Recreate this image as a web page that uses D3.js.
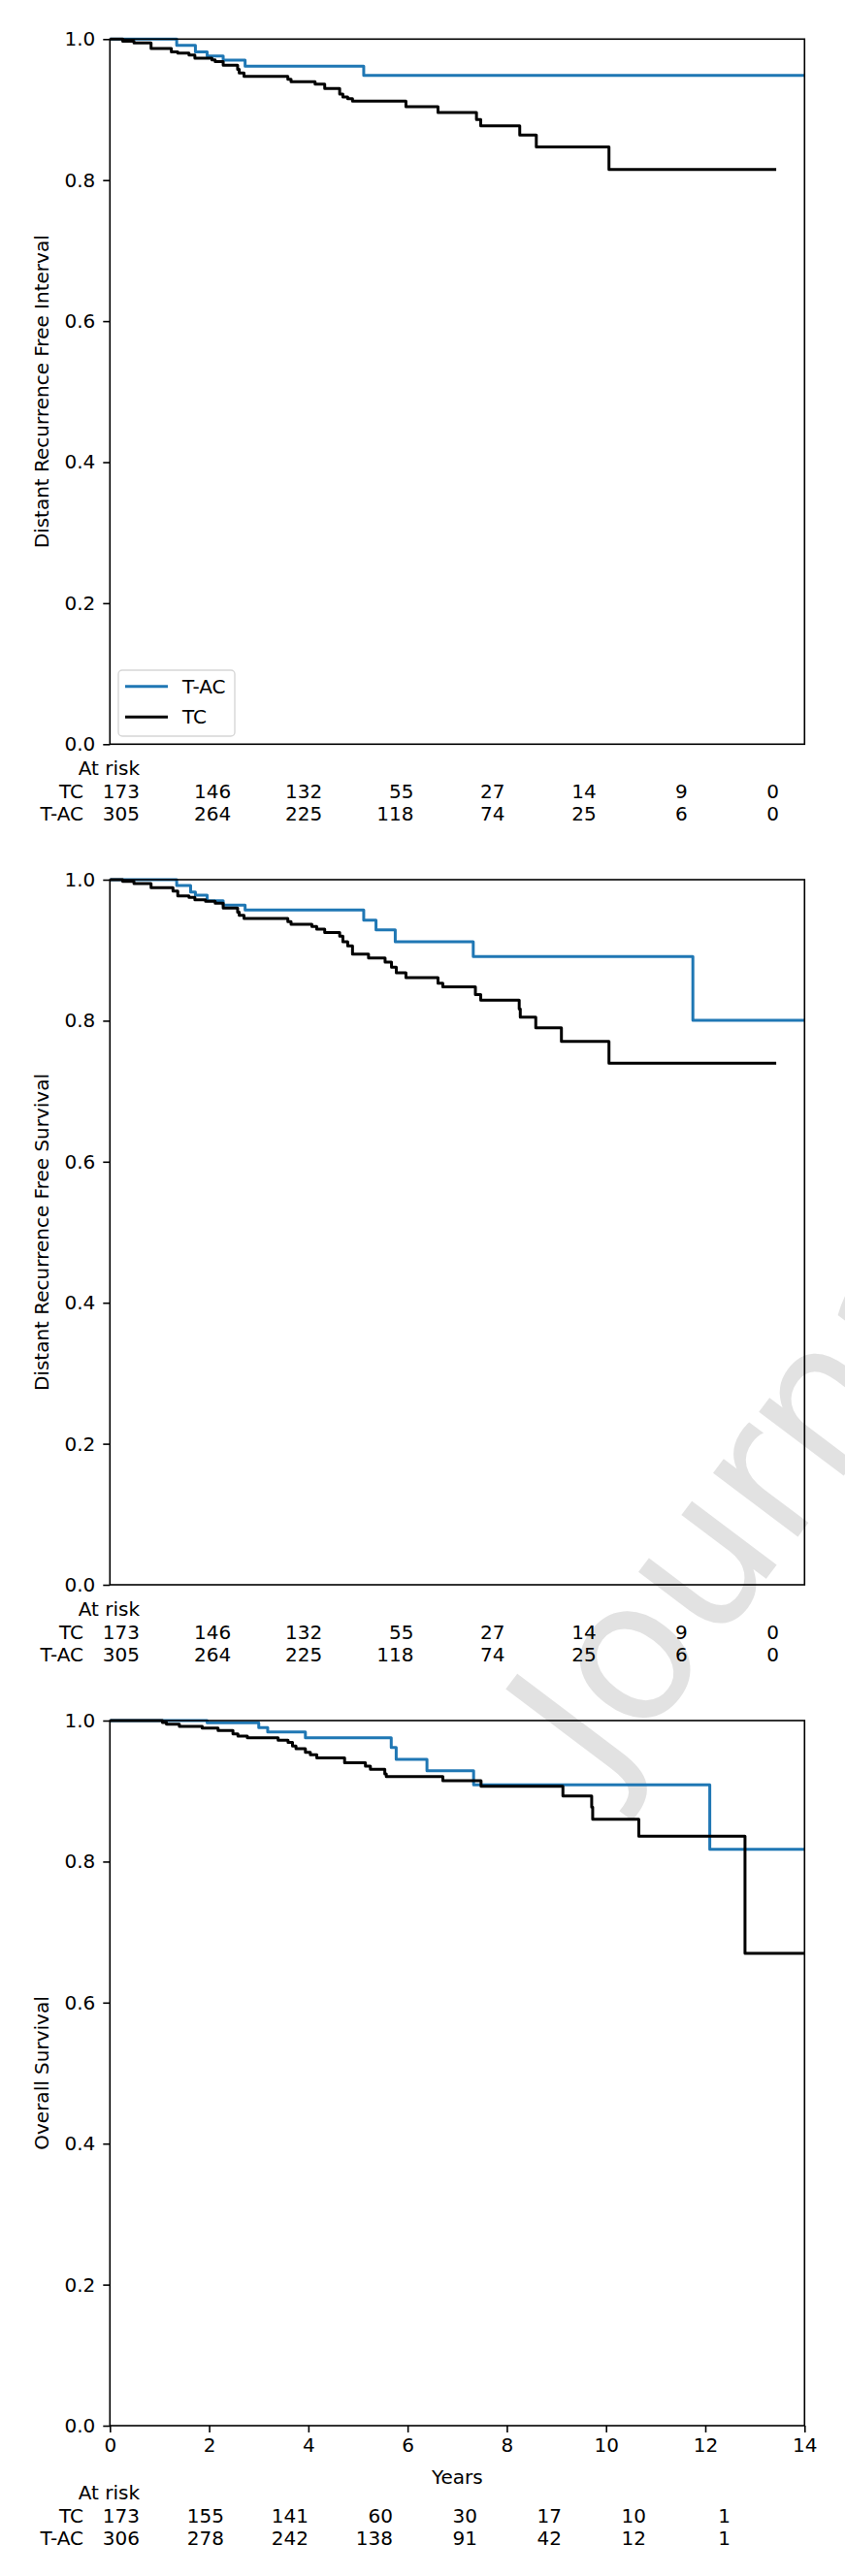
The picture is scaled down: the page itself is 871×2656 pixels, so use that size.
<!DOCTYPE html>
<html>
<head>
<meta charset="utf-8">
<script src="https://cdn.jsdelivr.net/npm/d3@7"></script>
<style>
  body { margin: 0; background: #fff; }
  text { font-family: 'DejaVu Sans', sans-serif; }
</style>
</head>
<body>
<div id="chart"></div>
<script>
// ---- data ----
const riskTimes = [0, 2, 4, 6, 8, 10, 12, 14];
const xTicks = [0, 2, 4, 6, 8, 10, 12, 14];
const yTicks = [0, 0.2, 0.4, 0.6, 0.8, 1.0];
const groups = ["T-AC", "TC"];

// Distant recurrence free interval
const drfiTacTimes = [1.25, 1.60, 1.82, 2.12, 2.53, 4.75];
const drfiTacSurv = [0.991, 0.982, 0.976, 0.970, 0.9615, 0.9486];
const drfiTacEnd = 13;
const drfiTcTimes = [0.24, 0.45, 0.77, 1.15, 1.27, 1.48, 1.59, 1.91, 1.97, 2.12, 2.39, 2.42, 2.51, 3.33, 3.39, 3.84, 4.02, 4.30, 4.36, 4.45, 4.54, 5.54, 6.14, 6.86, 6.94, 7.67, 7.98, 9.34];
const drfiTcSurv = [0.997, 0.9945, 0.9867, 0.982, 0.980, 0.9775, 0.973, 0.9706, 0.968, 0.963, 0.957, 0.952, 0.947, 0.943, 0.9395, 0.936, 0.930, 0.922, 0.918, 0.9156, 0.912, 0.904, 0.896, 0.886, 0.877, 0.864, 0.847, 0.815];
const drfiTcEnd = 12.47;

// Distant recurrence free survival
const drfsTacTimes = [1.25, 1.51, 1.60, 1.82, 2.12, 2.53, 4.75, 4.98, 5.34, 6.80, 10.91];
const drfsTacSurv = [0.9917, 0.9826, 0.978, 0.970, 0.964, 0.957, 0.9427, 0.9289, 0.912, 0.891, 0.8005];
const drfsTacEnd = 13;
const drfsTcTimes = [0.24, 0.45, 0.77, 1.18, 1.27, 1.48, 1.59, 1.79, 1.97, 2.12, 2.39, 2.42, 2.51, 3.33, 3.39, 3.78, 3.87, 4.02, 4.30, 4.36, 4.45, 4.54, 4.84, 5.15, 5.27, 5.36, 5.54, 6.14, 6.23, 6.84, 6.94, 7.66, 7.68, 7.97, 8.45, 9.34];
const drfsTcSurv = [0.9977, 0.9945, 0.9885, 0.984, 0.977, 0.975, 0.9716, 0.9693, 0.9666, 0.9597, 0.954, 0.9495, 0.945, 0.9404, 0.9367, 0.9335, 0.930, 0.925, 0.920, 0.912, 0.906, 0.8945, 0.889, 0.883, 0.876, 0.868, 0.861, 0.853, 0.848, 0.837, 0.829, 0.8166, 0.805, 0.790, 0.7707, 0.7396];
const drfsTcEnd = 12.47;

// Overall survival
const osTacTimes = [1.96, 3.00, 3.18, 3.94, 5.67, 5.77, 6.39, 7.33, 12.09];
const osTacSurv = [0.997, 0.990, 0.984, 0.9757, 0.962, 0.945, 0.9289, 0.909, 0.8175];
const osTacEnd = 14;
const osTcTimes = [1.06, 1.14, 1.40, 1.86, 2.18, 2.48, 2.58, 2.77, 3.39, 3.59, 3.68, 3.75, 3.94, 4.04, 4.17, 4.73, 5.15, 5.25, 5.54, 5.57, 6.71, 7.48, 9.13, 9.71, 9.73, 10.66, 12.80];
const osTcSurv = [0.9973, 0.995, 0.9917, 0.9895, 0.9858, 0.981, 0.978, 0.9757, 0.972, 0.969, 0.964, 0.960, 0.955, 0.9514, 0.947, 0.940, 0.9353, 0.9308, 0.9243, 0.9206, 0.9147, 0.9069, 0.8931, 0.8771, 0.860, 0.836, 0.670];
const osTcEnd = 14;

// numbers at risk
const drfiRiskTc = [173, 146, 132, 55, 27, 14, 9, 0];
const drfiRiskTac = [305, 264, 225, 118, 74, 25, 6, 0];
const osRiskTc = [173, 155, 141, 60, 30, 17, 10, 1];
const osRiskTac = [306, 278, 242, 138, 91, 42, 12, 1];

// ---- layout ----
const width = 871, height = 2656;
const left = 113.3, right = 829.3, plotH = 727;
const colors = { "T-AC": "#1f77b4", "TC": "#000000" };
const fs = 20;

const svg = d3.select("#chart").append("svg")
    .attr("width", width)
    .attr("height", height)
    .style("background", "#fff");

// faint watermark, sits behind everything (runs off the page like the original)
svg.append("text")
    .attr("transform", "translate(626,1845) rotate(-53)")
    .attr("font-size", 200)
    .attr("fill", "#e2e2e2")
    .text("Journal");

function steps(times, surv, end) {
    const pts = [[0, 1]];
    times.forEach((t, i) => pts.push([t, surv[i]]));
    pts.push([end, surv[surv.length - 1]]);
    return pts;
}

function drawPanel(cfg, idx) {
    const top = cfg.top, bottom = top + plotH;
    const x = d3.scaleLinear().domain(cfg.xDomain).range([left, right]);
    const y = d3.scaleLinear().domain([0, 1]).range([bottom, top]);
    const g = svg.append("g");

    g.append("clipPath").attr("id", "clip" + idx)
        .append("rect")
        .attr("x", left).attr("y", top - 2)
        .attr("width", right - left).attr("height", plotH + 2);

    const line = d3.line()
        .x(d => x(d[0]))
        .y(d => y(d[1]))
        .curve(d3.curveStepAfter);

    const plotArea = g.append("g").attr("clip-path", `url(#clip${idx})`);
    cfg.series.forEach(s => {
        plotArea.append("path")
            .datum(steps(s.times, s.surv, s.end))
            .attr("fill", "none")
            .attr("stroke", colors[s.name])
            .attr("stroke-width", 3)
            .attr("stroke-linejoin", "round")
            .attr("d", line);
    });

    // y axis
    const yAxis = g.append("g")
        .attr("transform", `translate(${left},0)`)
        .call(d3.axisLeft(y).tickValues(yTicks).tickFormat(d3.format(".1f")).tickSize(7).tickPadding(8));
    yAxis.select(".domain").remove();
    yAxis.selectAll("line").attr("stroke", "#000").attr("stroke-width", 1.6);
    yAxis.selectAll("text").attr("font-size", fs).attr("fill", "#000").attr("font-family", null);

    if (cfg.xAxis) {
        const xAxis = g.append("g")
            .attr("transform", `translate(0,${bottom})`)
            .call(d3.axisBottom(x).tickValues(xTicks).tickSize(7).tickPadding(6));
        xAxis.select(".domain").remove();
        xAxis.selectAll("line").attr("stroke", "#000").attr("stroke-width", 1.6);
        xAxis.selectAll("text").attr("font-size", fs).attr("fill", "#000").attr("font-family", null);
        g.append("text")
            .attr("x", (left + right) / 2)
            .attr("y", bottom + 60)
            .attr("text-anchor", "middle")
            .attr("font-size", fs)
            .text("Years");
    }

    // frame
    g.append("rect")
        .attr("x", left).attr("y", top)
        .attr("width", right - left).attr("height", plotH)
        .attr("fill", "none")
        .attr("stroke", "#000")
        .attr("stroke-width", 1.6);

    g.append("text")
        .attr("transform", `translate(50,${(top + bottom) / 2}) rotate(-90)`)
        .attr("text-anchor", "middle")
        .attr("font-size", fs)
        .text(cfg.yLabel);

    if (cfg.legend) {
        const lg = g.append("g");
        lg.append("rect")
            .attr("x", 122).attr("y", 691)
            .attr("width", 120).attr("height", 68)
            .attr("rx", 4)
            .attr("fill", "#fff")
            .attr("fill-opacity", 0.8)
            .attr("stroke", "#d6d6d6")
            .attr("stroke-width", 1.4);
        groups.forEach((name, i) => {
            const ly = 707.7 + i * 31.6;
            lg.append("line")
                .attr("x1", 129).attr("x2", 173)
                .attr("y1", ly).attr("y2", ly)
                .attr("stroke", colors[name])
                .attr("stroke-width", 3);
            lg.append("text")
                .attr("x", 188).attr("y", ly + 7)
                .attr("font-size", fs)
                .text(name);
        });
    }

    // at-risk table
    const rx = d3.scaleLinear().domain([0, 14]).range(cfg.riskRange);
    const rTop = bottom + cfg.riskOffset;
    g.append("text")
        .attr("x", rx(0)).attr("y", rTop + 7)
        .attr("text-anchor", "end")
        .attr("font-size", fs)
        .text("At risk");
    cfg.risk.forEach((row, i) => {
        const ry = rTop + 23.5 * (i + 1) + 7;
        g.append("text")
            .attr("x", 86).attr("y", ry)
            .attr("text-anchor", "end")
            .attr("font-size", fs)
            .text(row.name);
        g.selectAll(null)
            .data(row.counts)
            .enter().append("text")
            .attr("x", (d, j) => rx(riskTimes[j]))
            .attr("y", ry)
            .attr("text-anchor", "end")
            .attr("font-size", fs)
            .text(d => d);
    });
}

const panels = [
    {
        top: 40.3, xDomain: [0, 13], yLabel: "Distant Recurrence Free Interval", legend: true,
        series: [
            { name: "T-AC", times: drfiTacTimes, surv: drfiTacSurv, end: drfiTacEnd },
            { name: "TC", times: drfiTcTimes, surv: drfiTcSurv, end: drfiTcEnd }
        ],
        risk: [{ name: "TC", counts: drfiRiskTc }, { name: "T-AC", counts: drfiRiskTac }],
        riskRange: [144, 803], riskOffset: 25
    },
    {
        top: 907, xDomain: [0, 13], yLabel: "Distant Recurrence Free Survival",
        series: [
            { name: "T-AC", times: drfsTacTimes, surv: drfsTacSurv, end: drfsTacEnd },
            { name: "TC", times: drfsTcTimes, surv: drfsTcSurv, end: drfsTcEnd }
        ],
        risk: [{ name: "TC", counts: drfiRiskTc }, { name: "T-AC", counts: drfiRiskTac }],
        riskRange: [144, 803], riskOffset: 25
    },
    {
        top: 1774, xDomain: [0, 14], yLabel: "Overall Survival", xAxis: true,
        series: [
            { name: "T-AC", times: osTacTimes, surv: osTacSurv, end: osTacEnd },
            { name: "TC", times: osTcTimes, surv: osTcSurv, end: osTcEnd }
        ],
        risk: [{ name: "TC", counts: osRiskTc }, { name: "T-AC", counts: osRiskTac }],
        riskRange: [144, 753], riskOffset: 69
    }
];

panels.forEach(drawPanel);
</script>
</body>
</html>
